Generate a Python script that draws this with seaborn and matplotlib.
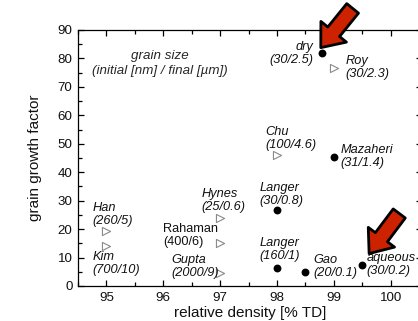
import matplotlib
matplotlib.use("Agg")
import matplotlib.pyplot as plt
import seaborn as sns
import pandas as pd
from matplotlib.patches import FancyArrowPatch

# ---- data ----
own_x = [98.8, 99.0, 98.0, 98.0, 98.5, 99.5]
own_y = [82.0, 45.2, 26.7, 6.2, 5.0, 7.4]
lit_x = [99.0, 98.0, 97.0, 97.0, 97.0, 95.0, 95.0]
lit_y = [76.5, 46.0, 24.0, 15.0, 4.5, 19.3, 14.2]

labels = ["dry\n(30/2.5)", "Roy\n(30/2.3)", "Chu\n(100/4.6)", "Mazaheri\n(31/1.4)",
          "Langer\n(30/0.8)", "Hynes\n(25/0.6)", "Rahaman\n(400/6)", "Gupta\n(2000/9)",
          "Langer\n(160/1)", "Gao\n(20/0.1)", "aqueous\n(30/0.2)", "Han\n(260/5)",
          "Kim\n(700/10)"]
label_x = [98.64, 99.21, 97.79, 99.12, 97.69, 96.67, 96.0, 96.14, 97.69, 98.64, 99.57, 94.75, 94.75]
label_y = [81.6, 76.8, 52.0, 45.5, 32.2, 30.2, 17.6, 7.0, 12.7, 7.0, 7.6, 25.1, 8.0]
label_ha = ["right", "left", "left", "left", "left", "left", "left", "left", "left",
            "left", "left", "left", "left"]
label_style = ["italic"] * 6 + ["normal"] + ["italic"] * 6

xticks = [95, 96, 97, 98, 99, 100]
yticks = [0, 10, 20, 30, 40, 50, 60, 70, 80, 90]

own = pd.DataFrame({"x": own_x, "y": own_y})
lit = pd.DataFrame({"x": lit_x, "y": lit_y})

sns.set_theme(style="ticks")
plt.rcParams["font.family"] = ["Liberation Sans", "DejaVu Sans"]

fig = plt.figure(figsize=(4.18, 3.21), dpi=100)
ax = fig.add_axes([78 / 418, 35 / 321, 344 / 418, 256 / 321])

sns.scatterplot(data=lit, x="x", y="y", ax=ax, marker=">", s=34,
                facecolor="white", edgecolor="#8a8a8a", linewidth=0.8, zorder=3)
sns.scatterplot(data=own, x="x", y="y", ax=ax, marker="o", s=32,
                color="black", edgecolor="black", linewidth=0, zorder=3)

for t, x, y, ha, st in zip(labels, label_x, label_y, label_ha, label_style):
    ax.text(x, y, t, ha=ha, va="center", fontsize=9.2, style=st,
            linespacing=1.1, color="#111111")

ax.text(95.94, 78.2, "grain size\n(initial [nm] / final [\u00b5m])", ha="center",
        va="center", fontsize=9.6, style="italic", linespacing=1.25)

# red arrows
for (x0, y0, x1, y1) in [(99.33, 97.6, 98.77, 83.8), (100.15, 25.5, 99.62, 11.4)]:
    arr = FancyArrowPatch((x0, y0), (x1, y1),
                          arrowstyle="simple,head_width=0.74,head_length=0.46,tail_width=0.34",
                          mutation_scale=32, fc="#cc2200", ec="black", lw=2.0,
                          clip_on=False, zorder=5, shrinkA=0, shrinkB=0)
    ax.add_patch(arr)

ax.set_xlim(94.5, 100.55)
ax.set_ylim(0, 90)
ax.set_xticks(xticks)
ax.set_yticks(yticks)
ax.set_xticks([94.5 + 0.5 * i for i in range(13)], minor=True)
ax.set_yticks([5 + 10 * i for i in range(9)], minor=True)
ax.tick_params(which="both", direction="in", top=True, right=True, labelsize=9.6,
               width=0.9, color="black", labelcolor="#111111", pad=4)
ax.tick_params(which="major", length=4)
ax.tick_params(which="minor", length=3)
for s in ax.spines.values():
    s.set_linewidth(0.9)
    s.set_color("black")
ax.set_xlabel("relative density [% TD]", fontsize=11, labelpad=2, color="#111111")
ax.set_ylabel("grain growth factor", fontsize=11, labelpad=11, color="#111111")

fig.savefig("out.png", dpi=100)
